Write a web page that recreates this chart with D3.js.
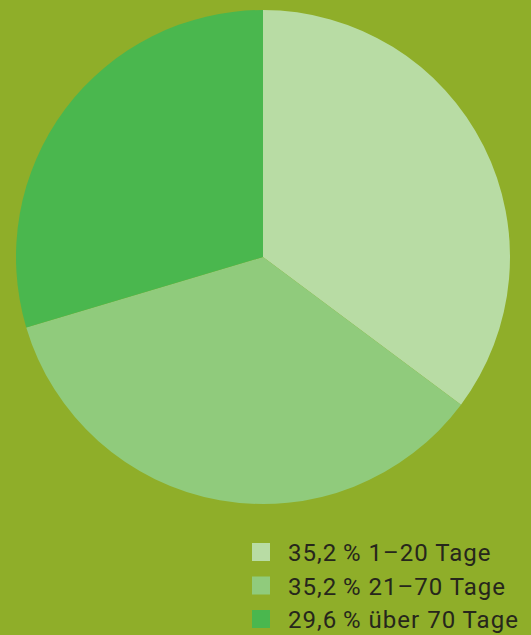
<!DOCTYPE html>
<html>
<head>
<meta charset="utf-8">
<script src="https://cdn.jsdelivr.net/npm/d3@7"></script>
<style>
  html, body { margin:0; padding:0; background:#8fae29; }
  svg { display:block; }
  .legend text { font-family: Roboto, "Noto Sans", sans-serif; font-weight:400; font-size:24px; letter-spacing:1px; fill:#26261c; }
</style>
</head>
<body>
<svg id="chart" width="531" height="635"></svg>
<script>
// --- data ---
const categories = ['1–20 Tage', '21–70 Tage', 'über 70 Tage'];
const shares = [35.2, 35.2, 29.6];
const colors = ['#b8dca4', '#90cb7c', '#4ab74e'];

const svg = d3.select('#chart');
const W = 531, H = 635;

svg.append('rect').attr('width', W).attr('height', H).attr('fill', '#8fae29');

// --- pie ---
const cx = 263, cy = 257, R = 247;
const pie = d3.pie().sort(null).value(d => d.v);
const arc = d3.arc().innerRadius(0).outerRadius(R);
const rows = categories.map((c, i) => ({ c, v: shares[i], col: colors[i] }));

svg.append('g')
  .attr('transform', `translate(${cx},${cy})`)
  .selectAll('path')
  .data(pie(rows))
  .join('path')
  .attr('d', arc)
  .attr('fill', d => d.data.col);

// --- legend ---
const fmt = v => d3.format('.1f')(v).replace('.', ',') + '\u2009%';
const y = d3.scalePoint().domain(categories).range([552, 619]);
const leg = svg.append('g').attr('class', 'legend');
const item = leg.selectAll('g').data(rows).join('g')
  .attr('transform', d => `translate(252,${y(d.c)})`);
item.append('rect')
  .attr('x', 0).attr('y', -9).attr('width', 18).attr('height', 18)
  .attr('fill', d => d.col);
item.append('text')
  .attr('x', 36).attr('y', 9)
  .text(d => `${fmt(d.v)} ${d.c}`);
</script>
</body>
</html>
